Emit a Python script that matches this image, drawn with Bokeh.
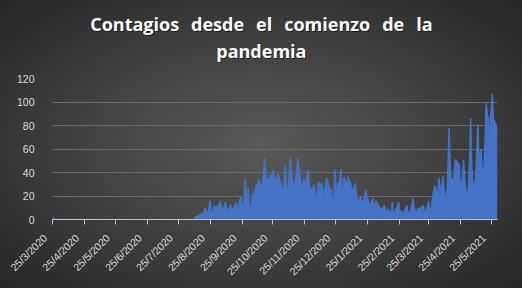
import math
import pandas as pd
from bokeh.plotting import figure
from bokeh.layouts import column
from bokeh.models import Range1d, FixedTicker
from bokeh.core.properties import value
from bokeh.embed import file_html
from bokeh.resources import INLINE

# ---- data (daily new cases) ----
start_date = "25/3/2020"

mar_2020 = [2, 1, 0, 0, 0, 0, 0]
apr_2020 = [0, 0, 0, 0, 0, 0, 0, 0, 0, 0,
            0, 0, 0, 0, 0, 0, 0, 0, 0, 0,
            0, 0, 0, 0, 0, 0, 0, 0, 0, 0]
may_2020 = [0, 0, 0, 0, 0, 0, 0, 0, 0, 0,
            0, 0, 0, 0, 0, 0, 0, 0, 0, 0,
            0, 0, 0, 0, 0, 0, 0, 0, 0, 0, 0]
jun_2020 = [0, 0, 0, 0, 0, 0, 0, 0, 0, 0,
            0, 0, 0, 0, 0, 0, 0, 0, 0, 0,
            0, 0, 0, 0, 0, 0, 0, 0, 0, 0]
jul_2020 = [0, 0, 0, 0, 0, 0, 0, 0, 0, 0,
            0, 0, 0, 0, 0, 0, 0, 0, 0, 0,
            0, 0, 0, 0, 0, 0, 0, 0, 0, 0, 0]
aug_2020 = [0, 0, 0, 0, 0, 0, 0, 0, 0, 1, 2, 3, 2, 4, 3, 5, 2, 6, 4, 10,
            7, 3, 6, 11, 16, 9, 4, 5, 12, 9, 11]
sep_2020 = [8, 13, 10, 16, 11, 6, 9, 12, 15, 10, 5, 8, 11, 13, 9, 6, 10, 12, 15, 11,
            8, 14, 17, 19, 12, 4, 18, 35, 22, 10]
oct_2020 = [27, 14, 2, 12, 20, 24, 18, 27, 30, 26, 35, 31, 28, 20, 33, 40, 52, 38, 35, 31,
            34, 36, 38, 35, 42, 37, 34, 33, 36, 39, 35]
nov_2020 = [32, 30, 26, 19, 33, 46, 30, 16, 28, 38, 53, 40, 33, 25, 30, 34, 41, 52, 46, 40,
            33, 28, 25, 35, 31, 28, 36, 42, 33, 27]
dec_2020 = [25, 26, 28, 30, 20, 9, 22, 32, 30, 29, 31, 28, 10, 24, 30, 35, 33, 29, 27, 26,
            24, 15, 6, 43, 30, 8, 31, 29, 35, 43, 25]
jan_2021 = [5, 36, 33, 28, 31, 36, 33, 32, 27, 23, 26, 28, 31, 24, 13, 14, 17, 19, 16, 14,
            15, 20, 25, 21, 18, 15, 12, 14, 16, 18, 9]
feb_2021 = [12, 16, 14, 13, 11, 10, 9, 8, 10, 12, 9, 8, 7, 9, 6, 5, 8, 15, 2, 6,
            8, 10, 12, 15, 9, 5, 7, 6]
mar_2021 = [5, 8, 10, 12, 7, 3, 6, 9, 13, 18, 11, 7, 5, 8, 10, 7, 10, 9, 12, 11,
            8, 5, 9, 12, 16, 10, 5, 12, 19, 24, 29]
apr_2021 = [27, 22, 19, 36, 28, 22, 30, 37, 28, 20, 16, 25, 45, 78, 50, 30, 35, 26, 39, 51,
            50, 49, 47, 46, 23, 30, 36, 51, 38, 26]
may_2021 = [22, 19, 34, 50, 86, 45, 31, 23, 30, 40, 60, 81, 51, 55, 60, 45, 34, 46, 70, 99,
            90, 86, 34, 86, 95, 107, 86, 84, 81, 78, 75]

tick_labels = ["25/3/2020", "25/4/2020", "25/5/2020", "25/6/2020", "25/7/2020",
               "25/8/2020", "25/9/2020", "25/10/2020", "25/11/2020", "25/12/2020",
               "25/1/2021", "25/2/2021", "25/3/2021", "25/4/2021", "25/5/2021"]
y_ticks = [0, 20, 40, 60, 80, 100, 120]

gap = "\u2002\u2009"
title_lines = [gap.join(["Contagios", "desde", "el", "comienzo", "de", "la"]), "pandemia"]

# ---- build ----
values = (mar_2020 + apr_2020 + may_2020 + jun_2020 + jul_2020 + aug_2020 + sep_2020 +
          oct_2020 + nov_2020 + dec_2020 + jan_2021 + feb_2021 + mar_2021 + apr_2021 + may_2021)
days = list(range(len(values)))
t0 = pd.to_datetime(start_date, dayfirst=True)
tick_days = [int((pd.to_datetime(s, dayfirst=True) - t0).days) for s in tick_labels]

W = 522
TITLE_H = 72


def transparent(fig):
    fig.background_fill_color = None
    fig.border_fill_color = None
    fig.outline_line_color = None


# title strip (pixel-like coordinates, y downwards)
tf = figure(width=W, height=TITLE_H, output_backend="svg", toolbar_location=None,
            x_range=Range1d(0, W), y_range=Range1d(TITLE_H, 0),
            x_axis_type=None, y_axis_type=None,
            min_border_left=0, min_border_right=0, min_border_top=0, min_border_bottom=0)
transparent(tf)
tf.xgrid.visible = False
tf.ygrid.visible = False
title_x = [245, 245]
title_y = [23, 50]
common = dict(text_align="center", text_baseline="middle", text_font=value("Open Sans"),
              text_font_style="bold", text_font_size="18px")
tf.text(x=[v + 1 for v in title_x], y=[v + 1.5 for v in title_y], text=title_lines,
        text_color="black", text_alpha=0.55, **common)
tf.text(x=title_x, y=title_y, text=title_lines, text_color="white", **common)

# chart
p = figure(width=W, height=216, output_backend="svg", toolbar_location=None,
           x_range=Range1d(0, len(values) - 1), y_range=Range1d(0, 120),
           min_border_left=52, min_border_right=25, min_border_top=6, min_border_bottom=69)
transparent(p)

p.xgrid.grid_line_color = None
p.ygrid.grid_line_color = "#6a6a6a"
p.ygrid.grid_line_width = 1
p.ygrid.ticker = FixedTicker(ticks=y_ticks)

p.yaxis.ticker = FixedTicker(ticks=y_ticks)
p.yaxis.axis_line_color = None
p.yaxis.major_tick_line_color = None
p.yaxis.minor_tick_line_color = None
p.yaxis.major_label_text_color = "#d9d9d9"
p.yaxis.major_label_text_font = "Liberation Sans"
p.yaxis.major_label_text_font_size = "10.5px"
p.yaxis.major_label_standoff = 12

p.xaxis.ticker = FixedTicker(ticks=tick_days)
p.xaxis.major_label_overrides = {d: s + "\u2003" for d, s in zip(tick_days, tick_labels)}
p.xaxis.major_label_orientation = math.pi / 4
p.xaxis.major_label_standoff = 4
p.xaxis.major_label_text_color = "#d9d9d9"
p.xaxis.major_label_text_font = "Liberation Sans"
p.xaxis.major_label_text_font_size = "10.5px"
p.xaxis.axis_line_color = "#bfbfbf"
p.xaxis.major_tick_line_color = "#bfbfbf"
p.xaxis.major_tick_in = 0
p.xaxis.major_tick_out = 5
p.xaxis.minor_tick_line_color = None

p.varea(x=days, y1=[0] * len(values), y2=values, fill_color="#4472C4")
p.line(x=days, y=values, line_color="#4472C4", line_width=1.5)

page = column(tf, p, spacing=0,
              styles={"background": "radial-gradient(ellipse farthest-corner at 50% 50%, "
                                    "#5a5a5a 0%, #262626 100%)"})

open("out.html", "w").write(file_html(page, INLINE))
